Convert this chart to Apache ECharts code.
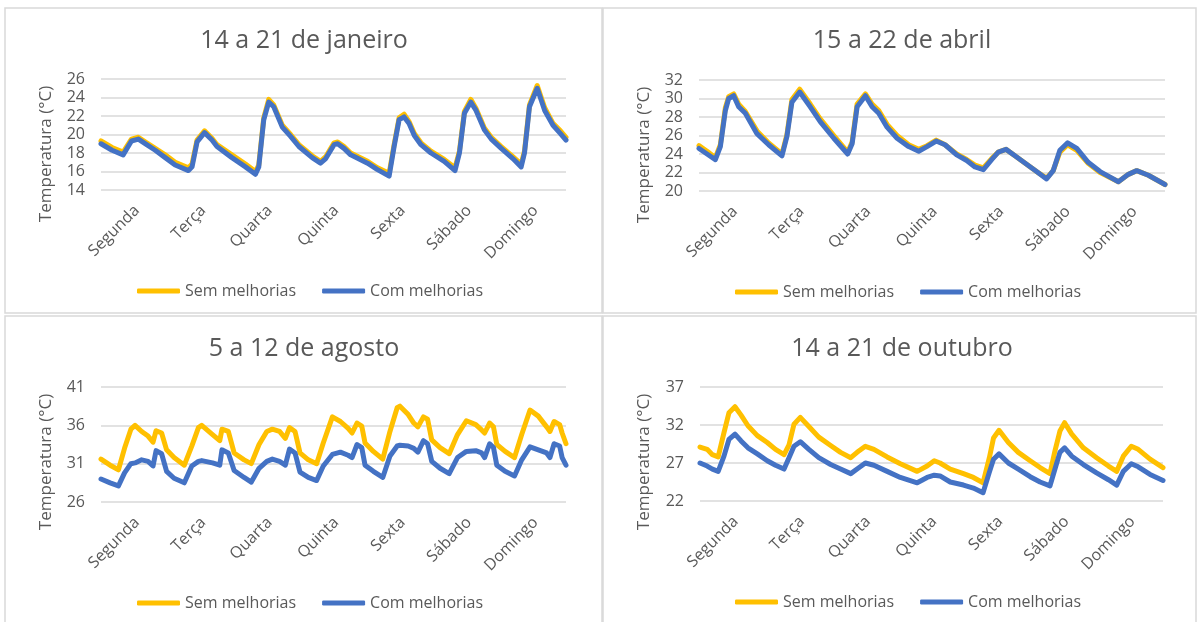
<!DOCTYPE html>
<html>
<head>
<meta charset="utf-8">
<script src="https://cdn.jsdelivr.net/npm/echarts@6/dist/echarts.min.js"></script>
<style>
  html, body { margin: 0; padding: 0; background: #fff; }
  #graficos { width: 1198px; height: 622px; }
</style>
</head>
<body>
<div id="graficos"></div>
<script>
// dias da semana no eixo horizontal
const dias = ['Segunda', 'Terça', 'Quarta', 'Quinta', 'Sexta', 'Sábado', 'Domingo'];
const nomeSem = 'Sem melhorias';
const nomeCom = 'Com melhorias';

// 14 a 21 de janeiro (hora da semana, temperatura °C)
const horasJan = [0, 4, 8, 11, 13.5, 16.5, 19.6, 23.2, 26.8, 31.6, 32.9, 34.7, 37.4, 40.1, 41.9, 47.3, 52.2, 55.8, 57, 58.8,
  60.6, 62.4, 65.5, 68.5, 71.5, 76.3, 79.3, 81.2, 84.2, 85.5, 87.8, 90.2, 96.3, 99.9, 104.1, 105.9, 107.7, 109.5, 111.3, 113.2,
  115.6, 119.2, 124, 127.9, 129.5, 131.3, 133.6, 135.5, 138.5, 141, 144.6, 148.8, 151.8, 153, 154.8, 157.6, 160.3, 163.3, 166, 168];
const semJan = [19.3, 18.6, 18.1, 19.5, 19.7, 19.1, 18.5, 17.8, 17.0, 16.4, 16.8, 19.4, 20.4, 19.6, 18.9, 17.8, 16.8, 16.0, 16.7, 21.8,
  23.8, 23.2, 21.0, 20.0, 18.9, 17.7, 17.1, 17.6, 19.1, 19.2, 18.7, 18.0, 17.1, 16.4, 15.8, 18.9, 21.8, 22.2, 21.4, 20.1,
  19.1, 18.2, 17.3, 16.4, 18.2, 22.5, 23.8, 22.8, 20.7, 19.7, 18.7, 17.6, 16.8, 18.2, 23.2, 25.3, 22.9, 21.2, 20.4, 19.7];
const comJan = [19.0, 18.3, 17.8, 19.3, 19.5, 18.9, 18.3, 17.5, 16.7, 16.1, 16.5, 19.2, 20.2, 19.4, 18.7, 17.5, 16.5, 15.7, 16.5, 21.6,
  23.5, 23.0, 20.8, 19.8, 18.7, 17.5, 16.9, 17.4, 18.9, 19.0, 18.5, 17.8, 16.9, 16.2, 15.5, 18.7, 21.6, 21.9, 21.2, 19.9,
  18.9, 18.0, 17.1, 16.1, 18.0, 22.3, 23.5, 22.6, 20.5, 19.5, 18.5, 17.4, 16.5, 18.0, 23.0, 25.0, 22.6, 21.0, 20.1, 19.4];
const ticksJan = [14, 16, 18, 20, 22, 24, 26];

// 15 a 22 de abril
const horasAbr = [0, 2.9, 5.9, 7.7, 9.5, 10.7, 12.5, 14.3, 16.7, 20.9, 25.1, 29.9, 31.7, 33.5, 36.3, 40.1, 43.7, 48.6, 53.6, 55.2,
  57, 60, 62.4, 64.8, 67.8, 71.4, 75.6, 79.2, 82.2, 85.5, 88.7, 92.9, 96.5, 99.5, 102.5, 105.5, 107.9, 110.7, 113.9, 118.1,
  121.7, 125.3, 127.7, 130.1, 132.9, 136.2, 140.3, 144.6, 151.2, 154.8, 157.8, 162, 168];
const semAbr = [24.9, 24.3, 23.6, 25.0, 29.0, 30.2, 30.5, 29.4, 28.6, 26.5, 25.2, 24.0, 26.1, 29.9, 31.0, 29.4, 27.8, 26.0, 24.2, 25.3,
  29.4, 30.5, 29.4, 28.7, 27.2, 26.0, 25.0, 24.5, 24.9, 25.5, 25.0, 24.0, 23.4, 22.8, 22.5, 23.5, 24.2, 24.5, 23.8, 22.9,
  22.1, 21.4, 22.2, 24.2, 25.0, 24.4, 23.0, 22.0, 21.0, 21.8, 22.2, 21.7, 20.7];
const comAbr = [24.6, 24.0, 23.4, 24.8, 28.7, 30.0, 30.3, 29.1, 28.4, 26.2, 25.0, 23.8, 25.9, 29.6, 30.7, 29.1, 27.5, 25.7, 24.0, 25.1,
  29.1, 30.3, 29.1, 28.4, 26.9, 25.7, 24.8, 24.3, 24.8, 25.4, 25.0, 23.9, 23.3, 22.6, 22.3, 23.4, 24.2, 24.5, 23.8, 22.9,
  22.1, 21.3, 22.2, 24.4, 25.2, 24.6, 23.1, 22.1, 21.0, 21.8, 22.2, 21.7, 20.7];
const ticksAbr = [20, 22, 24, 26, 28, 30, 32];

// 5 a 12 de agosto
const horasAgo = [0, 3.3, 6.3, 8.5, 10.8, 12.3, 14.7, 17, 18.8, 19.9, 21.9, 23.7, 26.4, 30.1, 32.8, 35.2, 36.4, 40.3, 42.9, 43.7,
  46, 48.1, 51.7, 54.3, 57.1, 59.9, 61.9, 64.5, 66.6, 68.1, 70.1, 71.9, 74.9, 77.9, 80.3, 83.6, 86.5, 89.3, 90.7, 92.5,
  94.2, 95.4, 98.4, 101.8, 104.4, 107, 108, 111, 113, 114.5, 116.5, 118, 119.5, 122.5, 125.8, 128.8, 132, 135.4, 137.5, 138.6,
  140.4, 141.8, 143, 146, 149.4, 152, 155, 158, 161, 162.2, 163.7, 165.7, 166.6, 168];
const semAgo = [31.6, 30.8, 30.2, 33.0, 35.5, 36.0, 35.2, 34.6, 33.8, 35.3, 35.0, 32.8, 31.8, 30.8, 33.3, 35.7, 36.0, 34.8, 34.0, 35.5,
  35.2, 32.4, 31.5, 31.0, 33.5, 35.2, 35.5, 35.2, 34.3, 35.7, 35.2, 32.4, 31.5, 31.0, 33.7, 37.1, 36.5, 35.6, 35.0, 36.3,
  35.9, 33.7, 32.6, 31.6, 35.2, 38.3, 38.5, 37.4, 36.3, 35.8, 37.1, 36.8, 34.1, 33.1, 32.3, 34.8, 36.6, 36.1, 35.4, 35.0,
  36.3, 35.8, 33.5, 32.6, 31.8, 34.8, 38.0, 37.2, 35.8, 35.2, 36.5, 36.1, 35.0, 33.6];
const comAgo = [29.0, 28.5, 28.1, 29.8, 31.0, 31.1, 31.5, 31.3, 30.7, 32.7, 32.3, 30.0, 29.1, 28.5, 30.7, 31.3, 31.4, 31.1, 30.8, 32.8,
  32.4, 30.1, 29.2, 28.6, 30.4, 31.3, 31.6, 31.3, 30.8, 32.9, 32.4, 29.9, 29.2, 28.8, 30.7, 32.2, 32.5, 32.1, 31.8, 33.5,
  33.1, 30.8, 30.0, 29.2, 32.0, 33.3, 33.4, 33.3, 33.0, 32.5, 34.0, 33.6, 31.3, 30.4, 29.7, 31.8, 32.6, 32.7, 32.4, 31.8,
  33.6, 33.1, 30.8, 30.0, 29.4, 31.5, 33.2, 32.8, 32.4, 31.8, 33.6, 33.3, 31.8, 30.8];
const ticksAgo = [26, 31, 36, 41];

// 14 a 21 de outubro
const horasOut = [0, 2.6, 4.5, 6.6, 8.7, 10.5, 12.7, 14.9, 17.4, 20.8, 24.4, 27.4, 30.5, 32.3, 34.1, 36.4, 39.5, 43.1, 47.4, 51,
  54.7, 57, 60, 63.1, 67.9, 72.7, 78.8, 82.4, 85, 87.1, 90.8, 95.6, 99.2, 102.7, 105, 106.5, 108.5, 111.9, 115.5, 119.8,
  123.4, 127, 128.8, 130.6, 132.3, 134.9, 139.1, 143.9, 148.2, 151.2, 153.6, 156.5, 159, 163.3, 168];
const semOut = [29.1, 28.8, 28.1, 27.8, 31.0, 33.6, 34.4, 33.3, 31.9, 30.6, 29.7, 28.8, 28.1, 29.4, 32.1, 33.0, 31.8, 30.4, 29.3, 28.4,
  27.7, 28.4, 29.2, 28.8, 27.8, 26.9, 25.9, 26.6, 27.3, 27.0, 26.2, 25.6, 25.1, 24.4, 27.7, 30.3, 31.3, 29.7, 28.4, 27.3,
  26.4, 25.6, 28.6, 31.2, 32.3, 30.8, 29.0, 27.7, 26.6, 25.9, 27.9, 29.2, 28.8, 27.5, 26.4];
const comOut = [27.0, 26.6, 26.2, 25.9, 27.9, 30.1, 30.8, 29.9, 29.0, 28.2, 27.3, 26.7, 26.2, 27.7, 29.2, 29.8, 28.8, 27.7, 26.8, 26.2,
  25.6, 26.2, 27.0, 26.7, 25.9, 25.1, 24.4, 25.1, 25.4, 25.3, 24.5, 24.1, 23.7, 23.1, 25.8, 27.5, 28.2, 27.0, 26.2, 25.2,
  24.5, 24.0, 26.2, 28.4, 29.0, 27.9, 26.8, 25.7, 24.8, 24.1, 25.9, 26.9, 26.5, 25.5, 24.7];
const ticksOut = [22, 27, 32, 37];

const paineis = [
  { titulo: '14 a 21 de janeiro', horas: horasJan, sem: semJan, com: comJan, ticks: ticksJan },
  { titulo: '15 a 22 de abril', horas: horasAbr, sem: semAbr, com: comAbr, ticks: ticksAbr },
  { titulo: '5 a 12 de agosto', horas: horasAgo, sem: semAgo, com: comAgo, ticks: ticksAgo },
  { titulo: '14 a 21 de outubro', horas: horasOut, sem: semOut, com: comOut, ticks: ticksOut }
];

// posicao de cada painel na pagina
const layout = [
  { x0: 5, cx: 304, grid: { left: 101, top: 79, width: 465, height: 111 } },
  { x0: 603, cx: 902, grid: { left: 699, top: 80, width: 466, height: 111 } },
  { x0: 5, cx: 304, grid: { left: 101, top: 387, width: 465, height: 115 } },
  { x0: 603, cx: 902, grid: { left: 700, top: 387, width: 463, height: 114 } }
];

const fonte = '"Open Sans", sans-serif';
const cinza = '#595959';
const amarelo = '#FFC000';
const azul = '#4472C4';
const posDias = dias.map((d, i) => 24 * i + 13);

const option = {
  animation: false,
  textStyle: { fontFamily: fonte },
  title: [],
  legend: [],
  grid: [],
  xAxis: [],
  yAxis: [],
  series: [],
  graphic: []
};

paineis.forEach((p, i) => {
  const l = layout[i];
  const g = l.grid;
  const yTopo = i < 2 ? 8 : 316;
  option.grid.push(g);
  option.title.push({
    text: p.titulo,
    left: l.cx,
    top: yTopo + 20,
    textAlign: 'center',
    padding: 0,
    textStyle: { color: cinza, fontSize: 25, fontWeight: 'normal', fontFamily: fonte }
  });
  option.legend.push({
    data: [nomeSem, nomeCom],
    left: l.x0 + 127,
    top: g.top + g.height + 88,
    icon: 'roundRect',
    itemWidth: 43,
    itemHeight: 5,
    itemGap: 26,
    textStyle: { color: cinza, fontSize: 16, fontFamily: fonte }
  });
  option.xAxis.push({
    type: 'value',
    gridIndex: i,
    min: 0,
    max: 168,
    axisLine: { show: false },
    axisTick: { show: false },
    splitLine: { show: false },
    axisLabel: {
      customValues: posDias,
      rotate: 45,
      margin: 18,
      color: cinza,
      fontSize: 16,
      fontFamily: fonte,
      formatter: v => dias[Math.round((v - 13) / 24)]
    }
  });
  option.yAxis.push({
    type: 'value',
    gridIndex: i,
    min: p.ticks[0],
    max: p.ticks[p.ticks.length - 1],
    axisLine: { show: false },
    axisTick: { show: false, customValues: p.ticks },
    splitLine: { show: true, lineStyle: { color: '#d9d9d9', width: 1.5 } },
    axisLabel: { customValues: p.ticks, margin: 16, color: cinza, fontSize: 16, fontFamily: fonte }
  });
  option.series.push({
    name: nomeSem,
    type: 'line',
    xAxisIndex: i,
    yAxisIndex: i,
    showSymbol: false,
    color: amarelo,
    lineStyle: { width: 5, cap: 'round', join: 'round' },
    data: p.horas.map((h, k) => [h, p.sem[k]])
  });
  option.series.push({
    name: nomeCom,
    type: 'line',
    xAxisIndex: i,
    yAxisIndex: i,
    showSymbol: false,
    color: azul,
    lineStyle: { width: 5, cap: 'round', join: 'round' },
    data: p.horas.map((h, k) => [h, p.com[k]])
  });
  option.graphic.push({
    type: 'text',
    x: l.x0 + 41,
    y: g.top + 75,
    rotation: Math.PI / 2,
    style: { text: 'Temperatura (°C)', align: 'center', verticalAlign: 'middle', fill: cinza, fontSize: 17, fontFamily: fonte }
  });
});

// molduras dos paineis
[[5, 8, 597, 305], [603, 8, 593, 305], [5, 316, 597, 310], [603, 316, 593, 310]].forEach(r => {
  option.graphic.push({
    type: 'rect',
    shape: { x: r[0], y: r[1], width: r[2], height: r[3] },
    style: { fill: 'none', stroke: '#d9d9d9', lineWidth: 1.5 },
    silent: true
  });
});

const chart = echarts.init(document.getElementById('graficos'));
chart.setOption(option);
</script>
</body>
</html>
